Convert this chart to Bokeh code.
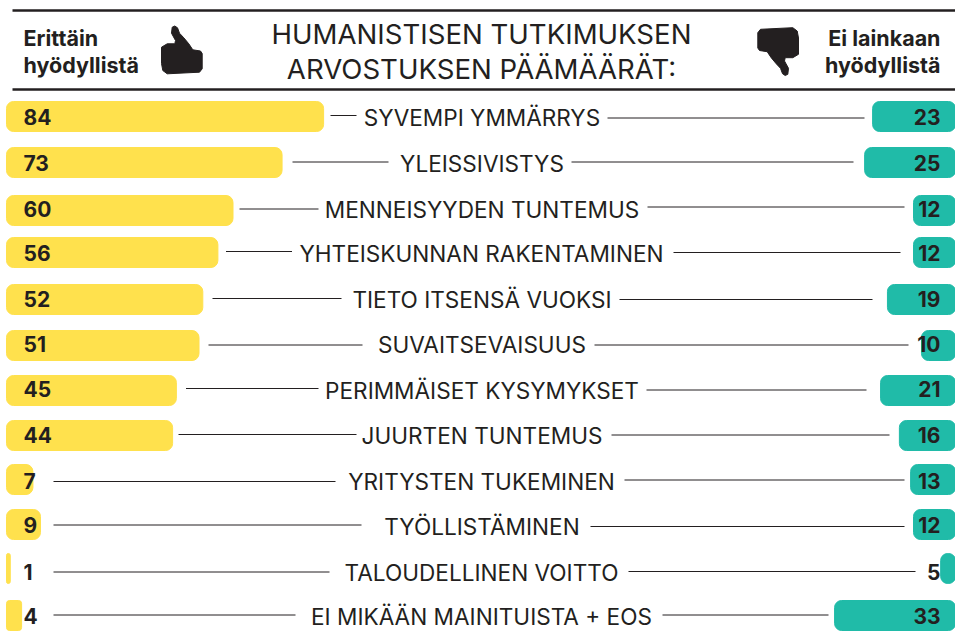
from bokeh.plotting import figure
from bokeh.models import Range1d, ColumnDataSource
from bokeh.core.properties import value
from bokeh.embed import file_html
from bokeh.resources import INLINE

categories = ["SYVEMPI YMMÄRRYS", "YLEISSIVISTYS", "MENNEISYYDEN TUNTEMUS", "YHTEISKUNNAN RAKENTAMINEN",
              "TIETO ITSENSÄ VUOKSI", "SUVAITSEVAISUUS", "PERIMMÄISET KYSYMYKSET", "JUURTEN TUNTEMUS",
              "YRITYSTEN TUKEMINEN", "TYÖLLISTÄMINEN", "TALOUDELLINEN VOITTO", "EI MIKÄÄN MAINITUISTA + EOS"]
useful = [84, 73, 60, 56, 52, 51, 45, 44, 7, 9, 1, 4]
useless = [23, 25, 12, 12, 19, 10, 21, 16, 13, 12, 5, 33]
# bar lengths as drawn in the reference, in percent units
useful_drawn = [84, 73, 60, 56, 52, 51, 45, 44, 7, 9, 1, 4]
useless_drawn = [22.9, 25.1, 11.6, 11.6, 18.8, 9.4, 20.7, 15.5, 12.4, 11.6, 4.1, 33.4]
rows = [116, 162, 210, 252, 299, 345, 390, 435, 479, 524, 568, 615]
text_rows = [116, 162, 208, 252, 298, 343, 388.5, 434, 480, 524.5, 571, 615]
label_x = [481.5, 481.5, 481.5, 481, 481.5, 481.5, 481.5, 481.5, 481, 481.5, 481, 481]
left_line = [(330, 356, 115.5), (292, 388, 162), (239, 318, 209), (225.5, 291.5, 251.5), (212, 341, 298.5), (208, 362, 345),
             (185.5, 318, 388.5), (178, 356, 434.5), (53, 335, 481.5), (53, 361, 525), (53, 329, 572), (53, 295, 615)]
right_line = [(607, 864, 118), (571, 853, 162), (647, 904, 207), (673, 900, 252.5), (619, 872, 299.5), (594, 908, 345),
              (646, 866, 390), (611, 889, 435), (624, 904, 480), (590, 904, 526.5), (628, 915, 571.5), (662, 828, 615)]
title_lines = ["HUMANISTISEN TUTKIMUKSEN", "ARVOSTUKSEN PÄÄMÄÄRÄT:"]

DARK = "#231f20"
YEL = "#ffe14d"
TEAL = "#20bba8"
FONT = value("Inter")
LEFT0, KL = 6, 3.775
RIGHT0, KR = 955, 3.62
SNAP = 0.5  # half-pixel shift so that the rules land on the pixel grid like the reference

p = figure(width=955, height=642, output_backend="svg", toolbar_location=None,
           x_range=Range1d(0, 955), y_range=Range1d(642, 0), min_border=0,
           outline_line_color=None, margin=(0, 0, 0, 0))
p.xaxis.visible = False
p.yaxis.visible = False
p.grid.visible = False

src = ColumnDataSource(dict(
    lab=categories, lx=label_x,
    uv=[str(v) for v in useful], dv=[str(v) for v in useless],
    vy=text_rows, ly=[t + 1 for t in text_rows], ux=[23] * 12, dx=[940] * 12,
))

big = [i for i, v in enumerate(useful_drawn) if v >= 5]
small = [i for i, v in enumerate(useful_drawn) if v < 5]
for idx, radius in ((big, 7), (small, 3)):
    p.hbar(y=[rows[i] for i in idx], left=[LEFT0] * len(idx), right=[LEFT0 + useful_drawn[i] * KL for i in idx],
           height=30, color=YEL, border_radius=radius)
p.hbar(y=rows, left=[RIGHT0 - v * KR for v in useless_drawn], right=[RIGHT0] * 12, height=30, color=TEAL,
       border_radius=7)

for line in (left_line, right_line):
    p.segment([a for a, b, c in line], [c - SNAP for a, b, c in line], [b for a, b, c in line],
              [c - SNAP for a, b, c in line], line_color=DARK, line_width=1)

p.text(x="lx", y="ly", text="lab", source=src, text_font=FONT, text_font_size="22.6px", text_color=DARK,
       text_align="center", text_baseline="middle")
p.text(x="ux", y="vy", text="uv", source=src, text_font=FONT, text_font_style="bold", text_font_size="21px",
       text_color=DARK, text_align="left", text_baseline="middle")
p.text(x="dx", y="vy", text="dv", source=src, text_font=FONT, text_font_style="bold", text_font_size="21px",
       text_color=DARK, text_align="right", text_baseline="middle")

p.text(x=[481, 481], y=[33, 68], text=title_lines, text_font=FONT, text_font_size="27.6px", text_color=DARK,
       text_align="center", text_baseline="middle")
p.text(x=[23, 23], y=[37, 64], text=["Erittäin", "hyödyllistä"], text_font=FONT, text_font_style="bold",
       text_font_size="21.5px", text_color=DARK, text_align="left", text_baseline="middle")
p.text(x=[940, 940], y=[37, 64], text=["Ei lainkaan", "hyödyllistä"], text_font=FONT, text_font_style="bold",
       text_font_size="21.5px", text_color=DARK, text_align="right", text_baseline="middle")

p.segment([12, 12], [10, 89], [955, 955], [10, 89], line_color=DARK, line_width=2.5)

thumb_x = [171.7, 174.3, 177, 179, 183.3, 188.3, 192.3, 200, 201.7, 201.7, 199, 166.7, 162.3, 161, 161, 166.7, 174.3, 175, 171]
thumb_y = [26.7, 25.5, 27.3, 32.7, 37.3, 43.3, 49.3, 50.5, 53, 68.3, 71.7, 73.3, 70, 63, 46.7, 43.3, 43.3, 40, 32.7]
p.patch(thumb_x, thumb_y, color=DARK)
p.patch([959 - x for x in thumb_x], [100.5 - y for y in thumb_y], color=DARK)

open("out.html", "w").write(file_html(p, INLINE))
